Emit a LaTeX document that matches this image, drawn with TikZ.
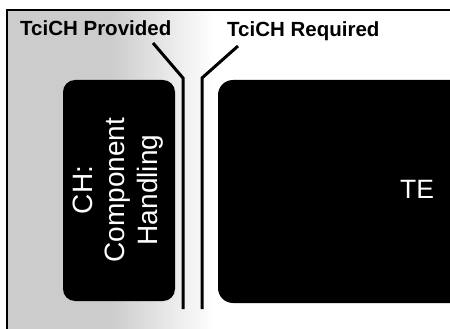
\documentclass[tikz,border=0pt]{standalone}
\usepackage{fontspec}
\setmainfont{Liberation Sans}
\begin{document}
\begin{tikzpicture}[x=1pt,y=-1pt,
  blackbox/.style={fill=black,draw=none},
  wire/.style={line width=3pt,line join=miter},
  hdr/.style={font=\fontsize{20.5}{24}\selectfont\bfseries,anchor=base west,inner sep=0pt},
  boxtext/.style={text=white,align=center,inner sep=0pt}]
\useasboundingbox (0,0) rectangle (450,329);
\clip (0,0) rectangle (450,329);
\fill[white] (0,0) rectangle (450,329);
% background shading on the left
\fill[black!20] (7,10) rectangle (110,329);
\shade[left color=black!20,right color=white,draw=none] (110,10) rectangle (215,329);
% frame
\draw[line width=2.2pt] (7,340) -- (7,10) -- (460,10);
% boxes
\fill[blackbox,rounded corners=12pt] (63,80) rectangle (175,301);
\fill[blackbox,rounded corners=15pt] (218,80) rectangle (470,303);
\node[boxtext,rotate=90,font=\fontsize{28}{32.5}\selectfont] (ch) at (118,190) {CH:\\Component\\Handling};
\node[boxtext,font=\fontsize{26.5}{30}\selectfont] (te) at (417,189) {TE};
% labels
\node[hdr] (prov) at (20,36) {TciCH Provided};
\node[hdr] (req) at (227,37) {TciCH Required};
\coordinate (p0) at (153,43);
\coordinate (p1) at (183,78);
\coordinate (p2) at (183,309);
\coordinate (r0) at (238,46);
\coordinate (r1) at (202,78);
\coordinate (r2) at (202,309);
\draw[wire] (p0) -- (p1) -- (p2);
\draw[wire] (r0) -- (r1) -- (r2);
\end{tikzpicture}
\end{document}
